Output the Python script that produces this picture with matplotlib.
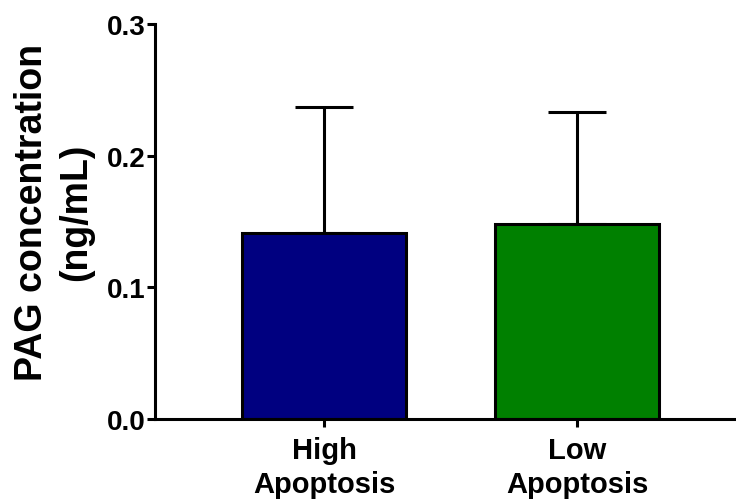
import numpy as np
import matplotlib
matplotlib.use("Agg")
import matplotlib.pyplot as plt

plt.rcParams['font.family'] = ['Liberation Sans', 'DejaVu Sans']
plt.rcParams['font.weight'] = 'bold'

# data
groups = ["High\nApoptosis", "Low\nApoptosis"]
means = [0.141, 0.148]
errors = [0.096, 0.085]
colours = ["#000080", "#008000"]

fig = plt.figure(figsize=(7.36, 5.02), dpi=100)
ax = fig.add_axes([155 / 736, 82 / 502, 1 - 155 / 736, 395 / 502])

x = np.arange(len(groups))
ax.bar(x, means, width=0.65, color=colours, edgecolor="black", linewidth=2.2, zorder=2)
ax.errorbar(x, means, yerr=[np.zeros(len(errors)), errors], fmt="none",
            ecolor="black", elinewidth=2.2, capsize=21, capthick=2.2, zorder=1)

ax.set_xlim(-0.668, 1.628)
ax.set_ylim(0, 0.3)
ax.set_yticks([0.0, 0.1, 0.2, 0.3])
ax.set_yticklabels(["0.0", "0.1", "0.2", "0.3"])
ax.set_xticks(x)
ax.set_xticklabels(groups, fontsize=21, fontweight="bold", linespacing=1.3)

for s in ["top", "right"]:
    ax.spines[s].set_visible(False)
for s in ["left", "bottom"]:
    ax.spines[s].set_linewidth(2.2)
ax.tick_params(axis="y", length=6, width=2.2, labelsize=20, pad=1)
ax.tick_params(axis="x", length=6, width=2.2, pad=6)

ax.set_ylabel("PAG concentration\n(ng/mL)", fontsize=27, fontweight="bold",
              linespacing=1.3, labelpad=9)
ax.yaxis.label.set_y(0.525)

fig.savefig("out.png", dpi=100)
